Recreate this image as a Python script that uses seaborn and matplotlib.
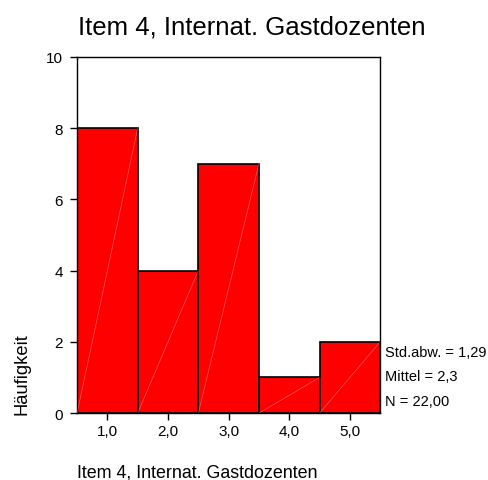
"""Histogramm Item 4 (SPSS-Stil) als out.png."""
import matplotlib
matplotlib.use("Agg")
import matplotlib.pyplot as plt
import numpy as np
import seaborn as sns

# Daten aus der Abbildung
werte = [1, 2, 3, 4, 5]
haeufigkeit = [8, 4, 7, 1, 2]
titel = "Item 4, Internat. Gastdozenten"
x_ticklabels = ["1,0", "2,0", "3,0", "4,0", "5,0"]
y_ticks = [0, 2, 4, 6, 8, 10]

sns.set_style("white")
plt.rcParams["font.family"] = ["Liberation Sans", "DejaVu Sans"]
plt.rcParams["text.color"] = "black"

fig = plt.figure(figsize=(4.88, 4.81), dpi=100)
ax = fig.add_axes([0.158, 0.139, 0.621, 0.741])

sns.histplot(x=werte, weights=haeufigkeit, discrete=True, color="#ff0000",
             edgecolor="black", linewidth=1.2, alpha=1, ax=ax)

# feine helle Diagonalen in den Balken (Artefakt der Vorlage)
for p in ax.patches:
    x0, y0 = p.get_x(), p.get_y()
    ax.plot([x0, x0 + p.get_width()], [y0, y0 + p.get_height()],
            color="white", lw=0.5, alpha=0.35, zorder=3)

ax.set_xlim(0.5, 5.5)
ax.set_ylim(0, 10)
ax.set_xticks(werte)
ax.set_xticklabels(x_ticklabels, fontsize=11)
ax.set_yticks(y_ticks)
ax.set_yticklabels([str(t) for t in y_ticks], fontsize=11)
ax.tick_params(axis="x", direction="out", length=5, width=1, colors="black",
               bottom=True, pad=3)
ax.tick_params(axis="y", direction="out", length=5, width=1, colors="black",
               left=True, pad=5)
ax.set_xlabel(""); ax.set_ylabel("")
for s in ax.spines.values():
    s.set_visible(True); s.set_color("black"); s.set_linewidth(1)

# Kennwerte
daten = np.repeat(werte, haeufigkeit)
n = len(daten)
mittel = daten.mean()
sd = daten.std(ddof=1)
stats = ["Std.abw. = " + f"{sd:.2f}".replace(".", ","),
         "Mittel = " + f"{mittel:.1f}".replace(".", ","),
         "N = " + f"{n:.2f}".replace(".", ",")]
for i, t in enumerate(stats):
    fig.text(385 / 488, 1 - (353 + 24.5 * i) / 481, t, fontsize=10.5,
             va="center", ha="left", color="black")

fig.text(252 / 488, 1 - 35 / 481, titel, fontsize=18.5,
         ha="center", va="baseline", color="black")
fig.text(22 / 488, 1 - 374 / 481, "Häufigkeit", fontsize=13.2, rotation=90,
         ha="center", va="center", color="black")
fig.text(77 / 488, 1 - 478 / 481, titel, fontsize=12.9, ha="left",
         va="baseline", color="black")

fig.savefig("out.png", dpi=100)
plt.close(fig)
